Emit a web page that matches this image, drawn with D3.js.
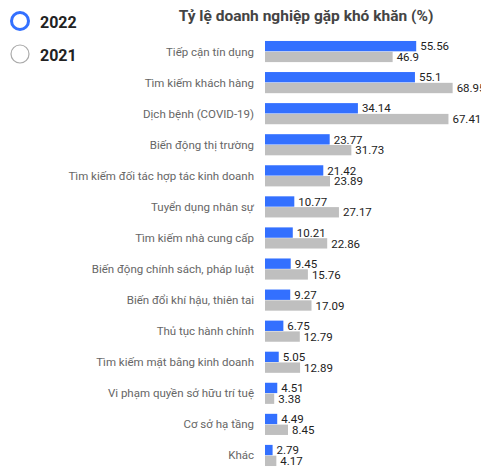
<!DOCTYPE html>
<html>
<head>
<meta charset="utf-8">
<script src="https://cdn.jsdelivr.net/npm/d3@7"></script>
<style>
  body { margin: 0; background: #fff; }
  svg { font-family: Roboto, "Noto Sans", sans-serif; }
</style>
</head>
<body>
<div id="chart"></div>
<script>
// Categories and values
var categories = [
  "Tiếp cận tín dụng",
  "Tìm kiếm khách hàng",
  "Dịch bệnh (COVID-19)",
  "Biến động thị trường",
  "Tìm kiếm đối tác hợp tác kinh doanh",
  "Tuyển dụng nhân sự",
  "Tìm kiếm nhà cung cấp",
  "Biến động chính sách, pháp luật",
  "Biến đổi khí hậu, thiên tai",
  "Thủ tục hành chính",
  "Tìm kiếm mặt bằng kinh doanh",
  "Vi phạm quyền sở hữu trí tuệ",
  "Cơ sở hạ tầng",
  "Khác"
];
var values2022 = [55.56, 55.1, 34.14, 23.77, 21.42, 10.77, 10.21, 9.45, 9.27, 6.75, 5.05, 4.51, 4.49, 2.79];
var values2021 = [46.9, 68.95, 67.41, 31.73, 23.89, 27.17, 22.86, 15.76, 17.09, 12.79, 12.89, 3.38, 8.45, 4.17];
var seriesNames = ["2022", "2021"];
var seriesColors = ["#3370ff", "#bfbfbf"];

var width = 481, height = 468;

var svg = d3.select("#chart").append("svg")
    .attr("width", width)
    .attr("height", height);

// Scales
var x = d3.scaleLinear()
    .domain([0, 70])
    .range([265, 455.5]);

var y = d3.scaleBand()
    .domain(categories)
    .range([36, 471])
    .paddingInner(0.32)
    .paddingOuter(0.16);

var ySub = d3.scaleBand()
    .domain(seriesNames)
    .range([0, y.bandwidth()])
    .paddingInner(0.04);

var rows = categories.map(function(c, i) {
  return { name: c, v: [values2022[i], values2021[i]] };
});

// Title
svg.append("text")
    .attr("x", 306)
    .attr("y", 21)
    .attr("text-anchor", "middle")
    .style("font-size", "15.5px")
    .style("font-weight", "bold")
    .style("fill", "#444")
    .text("Tỷ lệ doanh nghiệp gặp khó khăn (%)");

// Legend
var legend = svg.selectAll("g.legend")
    .data(seriesNames)
  .enter().append("g")
    .attr("class", "legend")
    .attr("transform", function(d, i) { return "translate(20," + (21 + i * 33) + ")"; });

legend.append("circle")
    .attr("r", function(d, i) { return i === 0 ? 8.5 : 9; })
    .attr("fill", "none")
    .attr("stroke", function(d, i) { return i === 0 ? "#3370ff" : "#aaa"; })
    .attr("stroke-width", function(d, i) { return i === 0 ? 3 : 1.2; });

legend.append("text")
    .attr("x", 20)
    .attr("y", 6.5)
    .style("font-size", "16px")
    .style("font-weight", "bold")
    .style("fill", "#222")
    .text(function(d) { return d; });

// Category groups
var groups = svg.selectAll("g.row")
    .data(rows)
  .enter().append("g")
    .attr("class", "row")
    .attr("transform", function(d) { return "translate(0," + y(d.name) + ")"; });

groups.append("text")
    .attr("x", 254)
    .attr("y", y.bandwidth() / 2)
    .attr("dy", "0.35em")
    .attr("text-anchor", "end")
    .style("font-size", "11.5px")
    .style("fill", "#666")
    .text(function(d) { return d.name; });

seriesNames.forEach(function(s, k) {
  groups.append("rect")
      .attr("x", x(0))
      .attr("y", ySub(s))
      .attr("width", function(d) { return x(d.v[k]) - x(0); })
      .attr("height", ySub.bandwidth())
      .style("fill", seriesColors[k]);

  groups.append("text")
      .attr("x", function(d) { return x(d.v[k]) + 4; })
      .attr("y", ySub(s) + ySub.bandwidth() - 1)
      .style("font-size", "11.5px")
      .style("fill", "#222")
      .text(function(d) { return d.v[k]; });
});
</script>
</body>
</html>
